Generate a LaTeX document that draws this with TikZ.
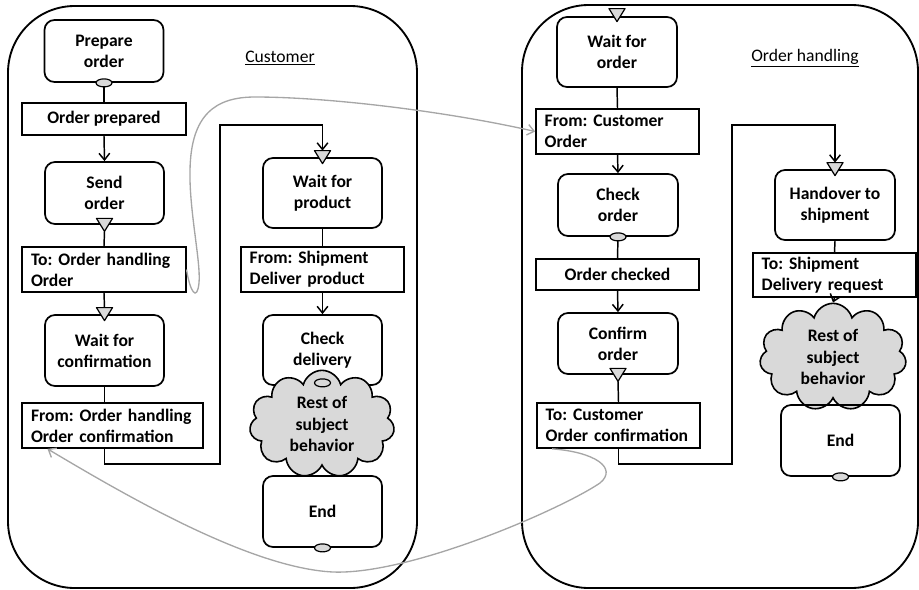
\documentclass[tikz,border=0pt]{standalone}
\usepackage{fontspec}
\setmainfont{Carlito}
\usetikzlibrary{arrows.meta,shapes.symbols,calc}
\definecolor{shadegray}{HTML}{D9D9D9}
\definecolor{flowgray}{HTML}{A6A6A6}
\frenchspacing
\hyphenpenalty=10000

\tikzset{
  tri/.pic={\filldraw[fill=shadegray, line width=0.9pt, line join=round] (-8,-6.5) -- (8,-6.5) -- (0,6.5) -- cycle;},
  oval/.pic={\filldraw[fill=shadegray, line width=0.9pt] (0,0) ellipse [x radius=6pt, y radius=3pt];}
}

\begin{document}
\begin{tikzpicture}[x=0.75pt,y=-0.75pt,
  every node/.style={font=\fontsize{13.2}{15.8}\selectfont\bfseries\frenchspacing},
  state/.style={draw, rounded corners=7.5pt, line width=1.3pt, align=center, inner sep=2pt,
                minimum width=89.25pt},
  msg/.style={draw, line width=1.3pt, align=left, inner xsep=6.5pt, inner ysep=2pt},
  lanelabel/.style={font=\fontsize{13.2}{15.8}\selectfont},
  lane/.style={draw, rounded corners=50pt, line width=1.4pt},
  flow/.style={line width=1.1pt},
  flowarr/.style={flow, -{Straight Barb[length=5pt,width=8pt]}},
  msgflow/.style={draw=flowgray, line width=1pt, -{Straight Barb[length=5pt,width=8pt]}},
  rest/.style={cloud, cloud puffs=11, draw, fill=shadegray, line width=1.2pt, align=center, inner sep=0pt}
]
\useasboundingbox (0,0) rectangle (919,589);

% subject lanes
\draw[lane] (8,6) rectangle (417,588);
\draw[lane] (522,5) rectangle (918,588);
\node[lanelabel] (custlbl) at (280,58) {\underline{Customer}};
\node[lanelabel] (ohlbl) at (805,58) {\underline{Order handling}};

% ---------- Customer ----------
\node[state, minimum height=46.5pt] (prep) at (104,51) {Prepare\\order};
\node[msg, minimum width=123pt, minimum height=24pt, align=center] (oprep) at (104,119) {Order prepared};
\node[state, minimum height=46.5pt] (send) at (104.5,193) {Send\\order};
\node[msg, minimum height=33.75pt, text width=109.5pt] (toOH) at (104,269.5) {To: Order handling\\Order};
\node[state, minimum height=53.25pt] (waitconf) at (104.5,350.5) {Wait for\\confirmation};
\node[msg, minimum height=33.75pt, text width=122.25pt] (fromOH) at (112.5,425.5) {From: Order handling\\Order confirmation};
\node[state, minimum height=52.5pt] (waitprod) at (322.5,193) {Wait for\\product};
\node[msg, minimum height=33.75pt, text width=109.25pt] (fromShip) at (322.5,269.5) {From: Shipment\\Deliver product};
\node[state, minimum height=52.5pt] (checkdel) at (322.5,350) {Check\\delivery};
\node[rest, minimum width=108.75pt, minimum height=76.5pt] (rest1) at (322,424) {Rest of\\subject\\behavior};
\node[state, minimum height=53.25pt] (end1) at (322.5,511.5) {End};

\coordinate (jL1) at (220,464);
\coordinate (jL2) at (220,125);

\draw[flow] (prep.south) -- (oprep.north);
\draw[flowarr] (oprep.south) -- (send.north);
\draw[flow] ($(send.south)+(0,6.5)$) -- (toOH.north);
\draw[flow] (toOH.south) -- ($(waitconf.north)+(0,-6.5)$);
\draw[flow] (waitconf.south) -- (waitconf.south |- fromOH.north);
\draw[flowarr] (waitconf.south |- fromOH.south) |- (jL1) -- (jL2) -| ($(waitprod.north)+(0,-6.5)$);
\draw[flow] (waitprod.south) -- (fromShip.north);
\draw[flowarr] (fromShip.south) -- (checkdel.north);

\pic at (prep.south) {oval};
\pic at (send.south) {tri};
\pic at (waitconf.north) {tri};
\pic at (waitprod.north) {tri};
\pic at ($(checkdel.south)+(0,-3)$) {oval};
\pic at (end1.south) {oval};

% ---------- Order handling ----------
\node[state, minimum width=90pt, minimum height=52.5pt] (waitord) at (617,52) {Wait for\\order};
\node[msg, minimum height=33.75pt, text width=109.25pt] (fromCust) at (617.5,131.5) {From: Customer\\Order};
\node[state, minimum width=90pt, minimum height=46.5pt] (checkord) at (618,205) {Check\\order};
\node[msg, minimum width=122.25pt, minimum height=23.25pt, align=center] (ochecked) at (617.5,274.5) {Order checked};
\node[state, minimum width=90pt, minimum height=45.75pt] (confirm) at (618,343.5) {Confirm\\order};
\node[msg, minimum height=33.75pt, text width=109.25pt] (toCust) at (618.5,425.5) {To: Customer\\Order confirmation};
\node[state, minimum width=90pt, minimum height=52.5pt] (handover) at (835,205) {Handover to\\shipment};
\node[msg, minimum height=33pt, text width=109.25pt] (toShip) at (834.5,275) {To: Shipment\\Delivery request};
\node[rest, minimum width=110pt, minimum height=75.75pt] (rest2) at (833,357) {Rest of\\subject\\behavior};
\node[state, minimum height=53.25pt] (end2) at (840.5,440.5) {End};

\coordinate (jR1) at (732,464);
\coordinate (jR2) at (732,125);

\draw[flow] (waitord.south) -- (fromCust.north);
\draw[flowarr] (fromCust.south) -- (checkord.north);
\draw[flow] (checkord.south) -- (ochecked.north);
\draw[flowarr] (ochecked.south) -- (confirm.north);
\draw[flow] ($(confirm.south)+(0,6.5)$) -- (toCust.north);
\draw[flowarr] (toCust.south) |- (jR1) -- (jR2) -| ($(handover.north)+(0,-6.5)$);
\draw[flow] (handover.south) -- (toShip.north);
\draw[flowarr] (toShip.south) -- (rest2.north);

\pic at ($(waitord.north)+(0,-1)$) {tri};
\pic at (checkord.south) {oval};
\pic at (confirm.south) {tri};
\pic at (handover.north) {tri};
\pic at (end2.south) {oval};

% ---------- messages between subjects ----------
\draw[msgflow] (toOH.east) .. controls (190,292) and (197,302) .. (199,283)
  .. controls (201,262) and (189,210) .. (190,170)
  .. controls (191,115) and (215,97) .. (255,97)
  .. controls (330,97) and (450,112) .. (fromCust.west);
\draw[msgflow] ($(toCust.south west)+(16,0)$) .. controls (595,452) and (618,468) .. (600,483)
  .. controls (560,510) and (410,575) .. (333,572)
  .. controls (250,568) and (125,495) .. ($(fromOH.south west)+(26,0)$);
\end{tikzpicture}
\end{document}
